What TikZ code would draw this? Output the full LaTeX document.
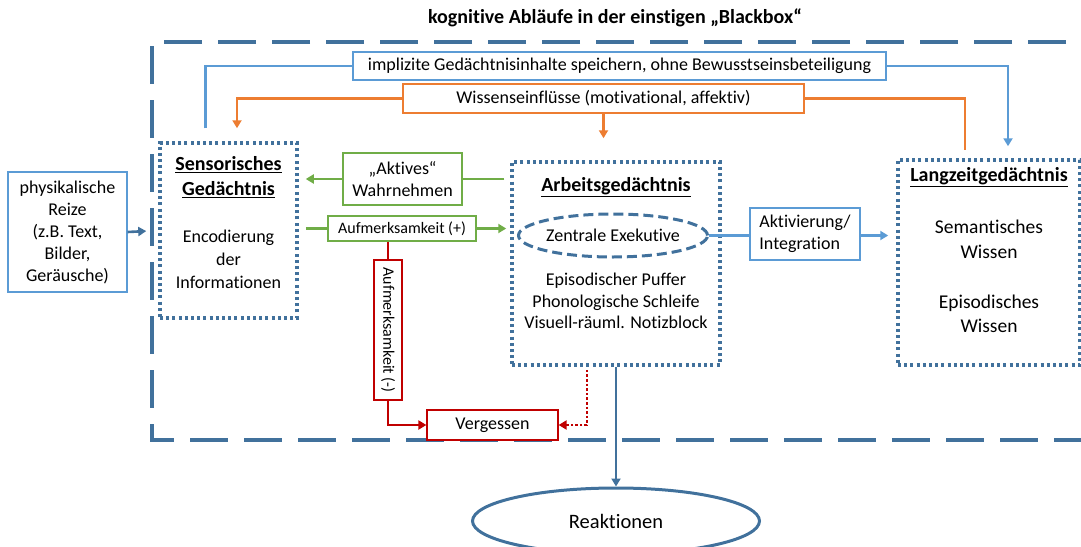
\documentclass[tikz,border=0pt]{standalone}
\usepackage{fontspec}
\setmainfont{Carlito}[Ligatures={NoCommon}]
\usetikzlibrary{shapes.geometric,arrows.meta}
\definecolor{dblue}{HTML}{41719C}
\definecolor{lblue}{HTML}{5B9BD5}
\definecolor{orng}{HTML}{ED7D31}
\definecolor{grn}{HTML}{70AD47}
\definecolor{rd}{HTML}{C00000}
\newcommand{\txt}{\fontsize{18}{22}\selectfont}
\newcommand{\hd}{\fontsize{20}{25}\selectfont\bfseries}
\begin{document}
\begin{tikzpicture}[x=1pt,y=-1pt,
  box/.style={draw, line width=1.2pt, fill=white, inner sep=0pt, align=center, font=\txt},
  mem/.style={draw=dblue, line width=3.5pt, dash pattern=on 3pt off 3.2pt, inner sep=0pt},
  lbl/.style={inner sep=0pt, align=center, font=\txt},
  tip/.style={-{Triangle[length=8pt,width=9pt]}},
  conn/.style={line width=2.6pt, tip}
]
\useasboundingbox (0,0) rectangle (1081,546);

% title
\node[inner sep=0pt, font=\hd] (title) at (615,18) {kognitive Abläufe in der einstigen „Blackbox“};

% outer frame of the black box
\draw[dblue, line width=4.5pt, dash pattern=on 38pt off 16pt] (1120,42) -- (152,42) -- (152,440) -- (1120,440);

% memory stores
\node[mem, minimum width=137pt, minimum height=175pt] (sens) at (228.5,230.5) {};
\node[lbl, font=\hd] (sensT) at (228.5,177.5) {\underline{Sensorisches}\\\underline{Gedächtnis}};
\node[lbl, font=\fontsize{18}{23}\selectfont] (sensB) at (228.5,259) {Encodierung\\der\\Informationen};

\node[mem, minimum width=208pt, minimum height=203pt] (arb) at (616,263.5) {};
\node[lbl, font=\hd] (arbT) at (616,187) {\underline{Arbeitsgedächtnis}};
\node[ellipse, draw=dblue, line width=3pt, dash pattern=on 10pt off 5pt, minimum width=180pt, minimum height=43pt, inner sep=0pt, font=\txt] (ze) at (613,235.5) {Zentrale Exekutive};
\node[lbl, font=\fontsize{18}{21.5}\selectfont] (arbB) at (616,301) {Episodischer Puffer\\Phonologische Schleife\\Visuell-räuml. Notizblock};

\node[mem, minimum width=182pt, minimum height=205pt] (lzg) at (989,262.5) {};
\node[lbl, font=\hd] (lzgT) at (989,177) {\underline{Langzeitgedächtnis}};
\node[lbl, font=\fontsize{19.5}{24.5}\selectfont] (sem) at (989,239.5) {Semantisches\\Wissen};
\node[lbl, font=\fontsize{19.5}{24.5}\selectfont] (epi) at (989,314) {Episodisches\\Wissen};

% text boxes
\node[box, draw=lblue, minimum width=119pt, minimum height=120pt] (reize) at (67.5,232) {physikalische\\Reize\\(z.B. Text,\\Bilder,\\Geräusche)};
\node[box, draw=grn, minimum width=119pt, minimum height=52pt] (akt) at (402.5,179) {„Aktives“\\Wahrnehmen};
\node[box, draw=grn, minimum width=148pt, minimum height=25pt, font=\fontsize{16}{18}\selectfont] (aufp) at (402,228.5) {Aufmerksamkeit (+)};
\node[box, draw=rd, minimum width=140pt, minimum height=28pt, rotate=-90, font=\fontsize{16}{18}\selectfont] (aufm) at (388,330) {Aufmerksamkeit (-)};
\node[box, draw=rd, minimum width=131pt, minimum height=30pt] (verg) at (492.5,425) {Vergessen};
\node[box, draw=lblue, minimum width=110pt, minimum height=52pt, align=left] (aktint) at (805,234) {Aktivierung/\\Integration};
\node[box, draw=lblue, minimum width=533pt, minimum height=28pt] (impl) at (619.5,66) {implizite Gedächtnisinhalte speichern, ohne Bewusstseinsbeteiligung};
\node[box, draw=orng, minimum width=401pt, minimum height=29pt] (wiss) at (603.5,98.5) {Wissenseinflüsse (motivational, affektiv)};

\node[ellipse, draw=dblue, line width=3pt, minimum width=287pt, minimum height=66pt, inner sep=0pt, font=\fontsize{20.5}{24}\selectfont] (reak) at (616,521) {Reaktionen};

% connectors
\draw[dblue, conn, shorten >=12pt] (reize.east) -- (sens.west);

\draw[grn, line width=2.6pt] ([shift={(-6,0)}]arb.west |- akt.east) -- (akt.east);
\draw[grn, conn, shorten >=7pt] (akt.west) -- (sens.east |- akt.west);
\draw[grn, line width=2.6pt] ([shift={(7,0)}]sens.east |- aufp.west) -- (aufp.west);
\draw[grn, conn, shorten >=4pt] (aufp.east) -- (arb.west |- aufp.east);

\draw[rd, line width=2.6pt] (aufm.west |- aufp.south) -- (aufm.west);
\draw[rd, conn] (aufm.east) |- (verg.west);
\draw[rd, line width=2.6pt, dotted, tip] ([shift={(-29,3)}]arb.south) |- (verg.east);

\draw[dblue, conn] (arb.south) -- (reak.north);
\draw[lblue, line width=2.6pt] (ze.east) -- (aktint.west |- ze.east);
\draw[lblue, conn, shorten >=8pt] (aktint.east |- ze.east) -- (lzg.west |- ze.east);

\draw[lblue, line width=2.6pt] ([shift={(-23,-13)}]sens.north) |- (impl.west);
\draw[lblue, conn] (impl.east) -| ([shift={(19,-12)}]lzg.north);

\draw[orng, conn] (wiss.west) -| ([shift={(8.5,-13)}]sens.north);
\draw[orng, conn] (wiss.south) -- ([shift={(0,-22)}]arb.north -| wiss.south);
\draw[orng, line width=2.6pt] (wiss.east) -| ([shift={(-24,-8)}]lzg.north);
\end{tikzpicture}
\end{document}
